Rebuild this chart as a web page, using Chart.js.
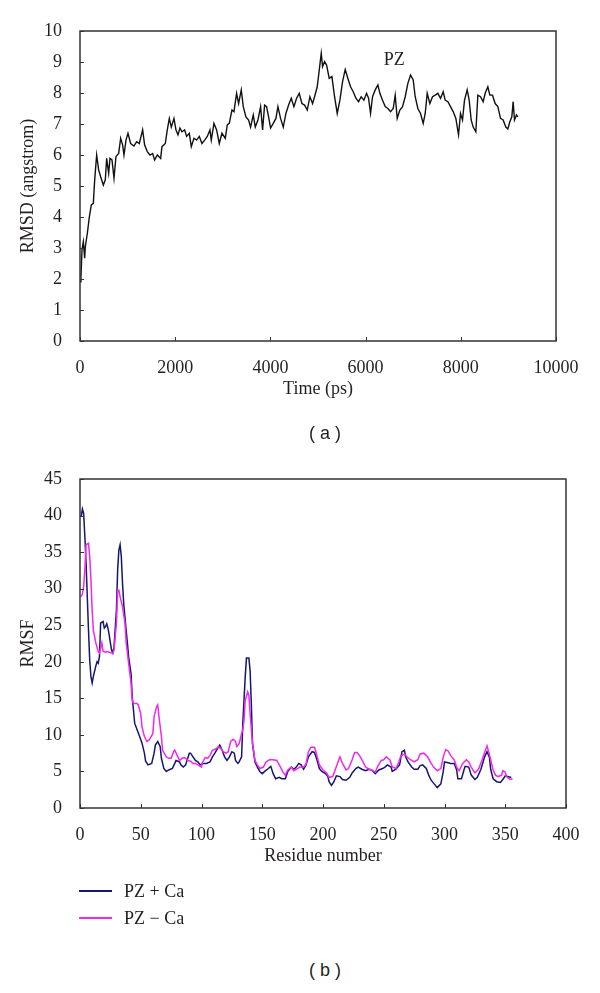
<!DOCTYPE html>
<html lang="en">
  <head>
    <meta charset="UTF-8" />
    <title>RMSD / RMSF</title>
    <style>
      body {
        margin: 0;
        width: 600px;
        height: 993px;
        position: relative;
        background: #fff;
        overflow: hidden;
      }
      canvas {
        position: absolute;
        left: 0;
      }
      .panel {
        position: absolute;
        left: 0;
        width: 650px;
        text-align: center;
        font: 18px "Liberation Sans", Arial, sans-serif;
        color: #231f20;
        line-height: 26px;
      }
      .legend-item {
        position: absolute;
        left: 79px;
        display: flex;
        align-items: center;
        font: 18px "Liberation Serif", "Times New Roman", serif;
        color: #231f20;
        height: 24px;
      }
      .legend-line {
        width: 33px;
        height: 0;
        border-top: 2px solid;
        margin-right: 12px;
      }
    </style>
  </head>
  <body>
    <canvas id="rmsd" width="600" height="420" style="top: 0"></canvas>
    <canvas id="rmsf" width="600" height="440" style="top: 440px"></canvas>
    <div class="panel" style="top: 420px">( a )</div>
    <div class="legend-item" style="top: 879px">
      <span class="legend-line" style="border-color: #16166e"></span>PZ + Ca
    </div>
    <div class="legend-item" style="top: 906px">
      <span class="legend-line" style="border-color: #f028f0"></span>PZ − Ca
    </div>
    <div class="panel" style="top: 957px">( b )</div>

    <script src="https://cdn.jsdelivr.net/npm/chart.js"></script>
    <script>
      // (a) RMSD over time
      const rmsdTime = [0,20,42,70,98,112,154,196,238,280,308,350,392,434,490,532,560,602,630,672,714,756,812,854,896,924,966,1008,1064,1134,1190,1246,1316,1358,1414,1470,1526,1568,1624,1694,1722,1792,1834,1876,1918,1974,2016,2058,2100,2142,2198,2240,2296,2338,2394,2450,2506,2562,2618,2674,2730,2758,2814,2870,2926,2982,3052,3094,3136,3192,3234,3290,3332,3388,3430,3486,3542,3584,3640,3682,3738,3794,3836,3878,3920,3962,4004,4060,4116,4158,4214,4270,4326,4382,4438,4494,4550,4606,4662,4718,4774,4830,4886,4928,4984,5026,5068,5096,5138,5180,5236,5292,5348,5404,5460,5516,5572,5628,5684,5740,5796,5852,5908,5964,6020,6062,6104,6146,6202,6258,6300,6356,6412,6468,6524,6580,6622,6664,6720,6776,6832,6888,6944,7000,7042,7098,7154,7210,7252,7294,7350,7406,7462,7518,7574,7630,7672,7728,7784,7840,7896,7952,7994,8036,8078,8134,8176,8218,8260,8316,8358,8414,8470,8512,8568,8610,8666,8722,8778,8834,8890,8946,8988,9030,9072,9100,9128,9170,9198];
      const rmsdValue = [1.91,2.07,2.94,3.2,2.67,3.05,3.47,4.0,4.39,4.44,5.19,6.0,5.52,5.3,5.03,5.2,5.89,5.41,5.89,5.84,5.25,5.95,6.05,6.54,6.32,6.0,6.48,6.7,6.37,6.29,6.43,6.37,6.81,6.32,6.11,6.0,6.05,5.84,6.0,5.89,6.27,6.37,6.81,7.18,6.9,7.18,6.81,6.65,6.87,6.75,6.81,6.6,6.7,6.27,6.54,6.48,6.6,6.37,6.48,6.6,6.81,6.48,7.02,6.81,6.37,6.7,6.54,6.97,7.02,7.45,7.4,7.99,7.66,8.1,7.56,7.23,7.13,6.9,7.29,6.9,7.13,7.56,6.81,7.61,7.56,7.23,6.87,7.02,7.18,7.56,7.18,6.9,7.34,7.61,7.83,7.56,7.83,7.99,7.66,7.61,7.45,7.88,7.66,7.88,8.2,8.74,9.28,8.85,9.01,8.9,8.47,8.53,7.88,7.34,7.77,8.37,8.76,8.47,8.2,8.04,7.83,7.72,7.88,7.77,7.99,7.83,7.34,7.88,8.1,8.26,7.99,7.77,7.56,7.5,7.4,7.5,7.93,7.18,7.45,7.56,7.88,8.31,8.58,8.42,7.88,7.5,7.34,7.02,7.34,7.99,7.66,7.88,7.93,7.99,7.83,8.04,7.77,7.72,7.56,7.4,7.18,6.65,7.34,7.13,7.77,8.1,7.77,7.13,6.9,6.75,7.93,7.88,7.72,7.99,8.2,7.93,7.93,7.66,7.56,7.18,7.13,6.9,6.84,7.07,7.23,7.72,7.13,7.29,7.23];

      // (b) RMSF per residue, with calcium
      const caResidue = [1,2,3,4,5,6,7,8,9,10,11,13,14,15,16,17,19,20,21,22,23,24,25,26,27,28,30,31,32,33,34,35,36,37,38,39,40,42,43,44,45,47,49,51,53,54,56,59,61,62,64,66,67,69,71,73,76,78,79,82,83,85,87,88,90,91,93,95,97,99,101,104,107,109,111,113,115,117,119,121,123,125,127,128,130,131,133,134,136,137,139,140,141,142,144,146,148,150,152,155,157,159,161,164,166,169,171,174,176,178,180,182,184,186,188,191,193,195,197,199,202,204,205,207,209,211,214,216,219,222,224,227,229,232,235,238,240,243,246,249,251,253,256,257,260,263,265,267,268,270,273,275,278,280,282,285,287,289,292,294,297,299,300,303,305,308,310,311,314,316,317,320,322,325,327,330,333,335,337,338,340,343,346,348,350,352,354,355];
      const caRmsf = [39.9,40.9,40.3,37.1,33.5,28.9,24.3,20.2,18.0,17.1,18.0,19.4,20.0,19.8,20.7,25.3,25.5,24.6,24.8,25.2,24.6,23.7,22.6,21.6,21.2,22.0,27.1,32.6,35.3,36.0,34.4,30.7,27.9,26.1,24.3,22.6,20.7,18.4,15.2,13.4,11.6,10.7,9.8,8.9,7.5,6.4,5.9,6.1,7.5,8.6,9.1,8.4,6.8,5.4,5.0,5.2,5.4,6.1,6.5,6.3,5.9,5.6,5.9,6.5,7.5,7.5,7.0,6.5,6.3,5.9,6.1,6.1,6.3,7.0,7.5,8.1,8.6,7.9,7.0,6.5,7.0,7.7,7.5,6.5,6.1,6.3,7.0,11.6,18.0,20.5,20.5,18.8,14.3,8.8,6.3,5.6,5.0,4.7,5.0,5.4,5.7,4.7,4.0,4.2,4.0,4.0,5.0,5.6,5.3,5.6,6.1,5.9,5.3,5.9,7.0,7.7,7.6,6.6,5.4,5.0,4.7,4.3,3.6,3.1,3.6,4.4,4.3,3.9,3.8,4.2,4.8,5.4,5.6,5.3,5.1,5.3,5.2,4.7,5.2,5.4,5.6,5.9,5.6,5.0,5.3,5.9,7.7,7.9,7.0,6.3,5.6,5.3,5.3,5.8,5.9,5.4,4.5,3.8,3.2,2.8,3.3,5.0,6.3,6.2,6.1,6.1,5.2,4.0,4.0,5.2,5.7,5.6,4.5,3.9,4.2,5.3,7.0,7.7,6.9,5.3,4.0,3.6,3.5,3.9,4.4,4.3,4.2,4.2];

      // (b) RMSF per residue, without calcium
      const noCaResidue = [1,2,3,4,5,7,8,9,10,11,13,15,16,18,19,21,22,24,26,27,28,30,31,32,33,35,37,38,40,42,43,44,47,48,50,51,53,55,57,60,61,63,64,65,67,68,71,73,75,77,78,80,82,84,86,89,91,93,95,97,100,101,103,105,107,109,112,114,116,118,120,122,124,126,128,129,131,133,134,135,136,138,139,140,142,144,146,148,151,153,156,159,162,165,167,169,171,174,176,179,181,184,186,188,190,193,195,197,200,203,205,208,210,213,214,216,219,221,224,226,228,230,233,235,238,240,243,245,248,250,252,255,257,260,262,264,267,269,272,275,278,280,283,286,289,291,294,297,299,301,303,305,308,310,312,315,318,320,322,325,328,331,333,335,336,338,340,342,344,347,348,350,351,354,356];
      const noCaRmsf = [28.9,29.3,30.3,32.6,36.0,36.2,34.4,31.2,27.1,24.3,22.6,21.4,21.2,22.6,21.4,21.3,21.4,21.3,21.2,21.2,21.6,25.3,29.8,29.8,28.9,27.5,25.3,22.6,19.8,17.1,14.7,14.3,14.3,14.1,12.9,11.1,9.8,9.1,9.3,10.2,12.5,13.8,14.1,12.5,9.8,7.9,7.0,6.8,6.8,7.7,7.9,7.2,6.5,6.8,6.9,6.5,6.4,6.1,6.1,5.9,5.6,6.3,6.9,6.8,7.2,7.9,8.1,8.4,8.1,7.7,7.5,7.7,9.1,9.4,9.1,8.4,8.8,10.2,10.7,12.0,14.7,15.9,15.4,12.9,8.8,6.5,5.9,5.4,5.6,6.3,6.6,6.6,6.5,5.6,4.9,4.5,5.2,5.6,5.1,5.4,5.6,5.6,6.0,7.7,8.3,8.3,7.2,5.9,5.2,4.8,4.2,4.3,5.2,6.6,7.0,6.1,5.2,5.4,6.6,7.6,7.6,7.2,6.3,5.6,5.3,5.2,4.9,5.7,6.5,6.6,7.0,6.6,5.6,5.4,6.1,7.1,7.4,7.0,6.6,6.3,6.6,7.4,7.5,7.0,6.1,5.6,5.1,5.4,7.0,8.0,7.8,7.2,6.6,5.6,5.1,6.1,6.6,6.3,5.6,4.8,5.3,6.6,7.6,8.5,7.9,6.6,5.2,4.5,4.3,4.5,5.1,4.9,4.3,3.9,4.0];

      const textColor = "#231f20";
      const serif = "'Liberation Serif', 'Times New Roman', serif";

      const toPoints = (xs, ys) => xs.map((x, i) => ({ x: x, y: ys[i] }));

      // frame round the plot area plus small inward tick marks
      const framePlugin = {
        id: "frame",
        afterDraw(chart) {
          const { ctx, chartArea: a, scales } = chart;
          ctx.save();
          ctx.strokeStyle = "#333";
          ctx.lineWidth = 1.5;
          ctx.strokeRect(a.left, a.top, a.right - a.left, a.bottom - a.top);
          ctx.lineWidth = 1;
          ctx.beginPath();
          scales.x.ticks.forEach((t) => {
            const px = Math.round(scales.x.getPixelForValue(t.value)) + 0.5;
            ctx.moveTo(px, a.bottom);
            ctx.lineTo(px, a.bottom - 4);
          });
          scales.y.ticks.forEach((t) => {
            const py = Math.round(scales.y.getPixelForValue(t.value)) + 0.5;
            ctx.moveTo(a.left, py);
            ctx.lineTo(a.left + 4, py);
          });
          ctx.stroke();
          ctx.restore();
        },
      };

      // "PZ" label inside panel (a)
      const pzLabel = {
        id: "pzLabel",
        afterDatasetsDraw(chart) {
          const { ctx, scales } = chart;
          ctx.save();
          ctx.fillStyle = textColor;
          ctx.font = "18px " + serif;
          ctx.textAlign = "center";
          ctx.textBaseline = "middle";
          ctx.fillText("PZ", scales.x.getPixelForValue(6600), scales.y.getPixelForValue(9.05));
          ctx.restore();
        },
      };

      const axis = (min, max, step, title, tickPad, titlePad, size) => ({
        type: "linear",
        min: min,
        max: max,
        grid: { display: false },
        border: { display: false },
        ticks: {
          stepSize: step,
          padding: tickPad,
          color: textColor,
          maxRotation: 0,
          font: { family: serif, size: 18 },
          callback: (v) => String(v),
        },
        title: {
          display: true,
          text: title,
          color: textColor,
          padding: titlePad,
          font: { family: serif, size: 18 },
        },
        afterFit: size,
      });

      new Chart(document.getElementById("rmsd"), {
        type: "line",
        data: {
          datasets: [
            {
              data: toPoints(rmsdTime, rmsdValue),
              borderColor: "#111",
              borderWidth: 1.4,
              pointRadius: 0,
              tension: 0,
            },
          ],
        },
        options: {
          responsive: false,
          animation: false,
          devicePixelRatio: 1,
          layout: { padding: { top: 31, right: 44, left: 0, bottom: 0 } },
          plugins: { legend: { display: false }, tooltip: { enabled: false } },
          scales: {
            x: axis(0, 10000, 2000, "Time (ps)", 8, { top: 0, bottom: 20 }, (s) => { s.height = 79; }),
            y: axis(0, 10, 1, "RMSD (angstrom)", 10, { top: 17, bottom: 0 }, (s) => { s.width = 80; }),
          },
        },
        plugins: [framePlugin, pzLabel],
      });

      new Chart(document.getElementById("rmsf"), {
        type: "line",
        data: {
          datasets: [
            {
              label: "PZ + Ca",
              data: toPoints(caResidue, caRmsf),
              borderColor: "#16166e",
              borderWidth: 1.5,
              pointRadius: 0,
              tension: 0,
              order: 1,
            },
            {
              label: "PZ − Ca",
              data: toPoints(noCaResidue, noCaRmsf),
              borderColor: "#f028f0",
              borderWidth: 1.5,
              pointRadius: 0,
              tension: 0,
              order: 0,
            },
          ],
        },
        options: {
          responsive: false,
          animation: false,
          devicePixelRatio: 1,
          layout: { padding: { top: 39, right: 34, left: 0, bottom: 0 } },
          plugins: { legend: { display: false }, tooltip: { enabled: false } },
          scales: {
            x: axis(0, 400, 50, "Residue number", 8, { top: 0, bottom: 13 }, (s) => { s.height = 72; }),
            y: axis(0, 45, 5, "RMSF", 10, { top: 17, bottom: 0 }, (s) => { s.width = 80; }),
          },
        },
        plugins: [framePlugin],
      });
    </script>
  </body>
</html>
